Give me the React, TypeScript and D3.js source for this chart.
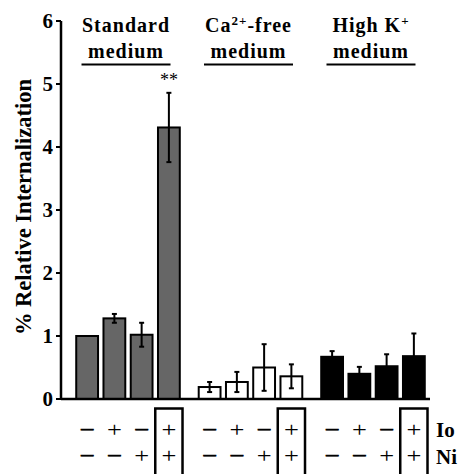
import React from 'react';
import * as d3 from 'd3';

// values
const groups = ['standard', 'caFree', 'highK'];
const standardMeans = [1.0, 1.28, 1.02, 4.31];
const standardErr = [0, 0.07, 0.19, 0.55];
const caFreeMeans = [0.19, 0.27, 0.5, 0.36];
const caFreeErr = [0.08, 0.16, 0.37, 0.19];
const highKMeans = [0.67, 0.4, 0.52, 0.68];
const highKErr = [0.09, 0.11, 0.19, 0.36];
const ioRow = ['\u2212', '+', '\u2212', '+'];
const niRow = ['\u2212', '\u2212', '+', '+'];
const yTicks = [0, 1, 2, 3, 4, 5, 6];
const fills = ['#666666', '#ffffff', '#000000'];

const W = 463;
const H = 474;
const font = '"Liberation Serif", "Times New Roman", serif';

const App = () => {
    const means = [standardMeans, caFreeMeans, highKMeans];
    const errs = [standardErr, caFreeErr, highKErr];

    const y = d3.scaleLinear().domain([0, 6]).range([399, 21]);
    const x0 = d3.scaleBand().domain(groups).range([73.5, 427.5]).paddingInner(0.11).paddingOuter(0);
    const x1 = d3.scaleBand().domain(['0', '1', '2', '3']).range([0, x0.bandwidth()])
        .paddingInner(0.2).paddingOuter(0.1);
    const bw = x1.bandwidth();
    const step = x1.step();

    const header = (g, i) => {
        const cx = x0(g) + x0.bandwidth() / 2 - 2;
        const st = { fontFamily: font, fontWeight: 'bold', fontSize: 20, letterSpacing: 1 };
        let line1;
        if (i === 0) line1 = <text x={cx} y={32} textAnchor="middle" style={st}>Standard</text>;
        if (i === 1) line1 = (
            <text x={cx} y={32} textAnchor="middle" style={st}>
                Ca<tspan fontSize={13} dy={-7}>2+</tspan><tspan dy={7}>-free</tspan>
            </text>
        );
        if (i === 2) line1 = (
            <text x={cx} y={32} textAnchor="middle" style={st}>
                High K<tspan fontSize={13} dy={-7}>+</tspan>
            </text>
        );
        return (
            <g key={'h' + g}>
                {line1}
                <text x={cx} y={58} textAnchor="middle" style={st}>medium</text>
                <line x1={cx - 44.5} x2={cx + 44.5} y1={64.5} y2={64.5} stroke="#000" strokeWidth={2} />
            </g>
        );
    };

    const sign = (s, x, yy, key) => (
        <text key={key} transform={`translate(${x},${yy}) scale(1.2,1)`} textAnchor="middle"
            stroke={s === '+' ? 'none' : '#000'} strokeWidth={0.8}
            style={{ fontFamily: font, fontSize: 22 }}>{s}</text>
    );

    return (
        <svg width={W} height={H} style={{ position: 'absolute', left: 0, top: 0, background: '#fff' }}>
            {/* y axis */}
            <line x1={61} x2={61} y1={y(6)} y2={y(0)} stroke="#000" strokeWidth={2.5} />
            {yTicks.map(t => (
                <g key={'t' + t}>
                    <line x1={56} x2={61} y1={y(t)} y2={y(t)} stroke="#000" strokeWidth={2} />
                    <text x={53} y={y(t) + 7} textAnchor="end"
                        style={{ fontFamily: font, fontWeight: 'bold', fontSize: 21 }}>{t}</text>
                </g>
            ))}
            <text transform={`translate(31,207) rotate(-90)`} textAnchor="middle"
                style={{ fontFamily: font, fontWeight: 'bold', fontSize: 22.5 }}>% Relative Internalization</text>

            {groups.map(header)}

            {/* bars */}
            {groups.map((g, gi) => means[gi].map((v, i) => {
                const bx = x0(g) + x1(String(i));
                const cx = bx + bw / 2;
                const e = errs[gi][i];
                return (
                    <g key={g + i}>
                        <rect x={bx} y={y(v)} width={bw} height={y(0) - y(v)}
                            fill={fills[gi]} stroke="#000" strokeWidth={2} />
                        {e > 0 && (
                            <g stroke="#000" strokeWidth={2}>
                                <line x1={cx} x2={cx} y1={y(v + e)} y2={y(v - e)} />
                                <line x1={cx - 2.5} x2={cx + 2.5} y1={y(v + e)} y2={y(v + e)} />
                                <line x1={cx - 2.5} x2={cx + 2.5} y1={y(v - e)} y2={y(v - e)} />
                            </g>
                        )}
                    </g>
                );
            }))}
            <text x={x0('standard') + x1('3') + bw / 2} y={y(standardMeans[3] + standardErr[3]) - 7}
                textAnchor="middle" style={{ fontFamily: font, fontSize: 18 }}>**</text>

            {/* x axis */}
            <line x1={61} x2={430} y1={y(0)} y2={y(0)} stroke="#000" strokeWidth={2.5} />

            {/* treatment rows */}
            {groups.map(g => (
                <g key={'r' + g}>
                    {ioRow.map((s, i) => sign(s, x0(g) + x1(String(i)) + bw / 2, 437, 'io' + i))}
                    {niRow.map((s, i) => sign(s, x0(g) + x1(String(i)) + bw / 2, 463, 'ni' + i))}
                    <rect x={x0(g) + x1('3') + bw / 2 - step / 2} y={408.5} width={step} height={80}
                        fill="none" stroke="#000" strokeWidth={2.5} />
                </g>
            ))}
            <text x={436} y={437} style={{ fontFamily: font, fontWeight: 'bold', fontSize: 21 }}>Io</text>
            <text x={436} y={464} style={{ fontFamily: font, fontWeight: 'bold', fontSize: 21 }}>Ni</text>
        </svg>
    );
};

export default App;
